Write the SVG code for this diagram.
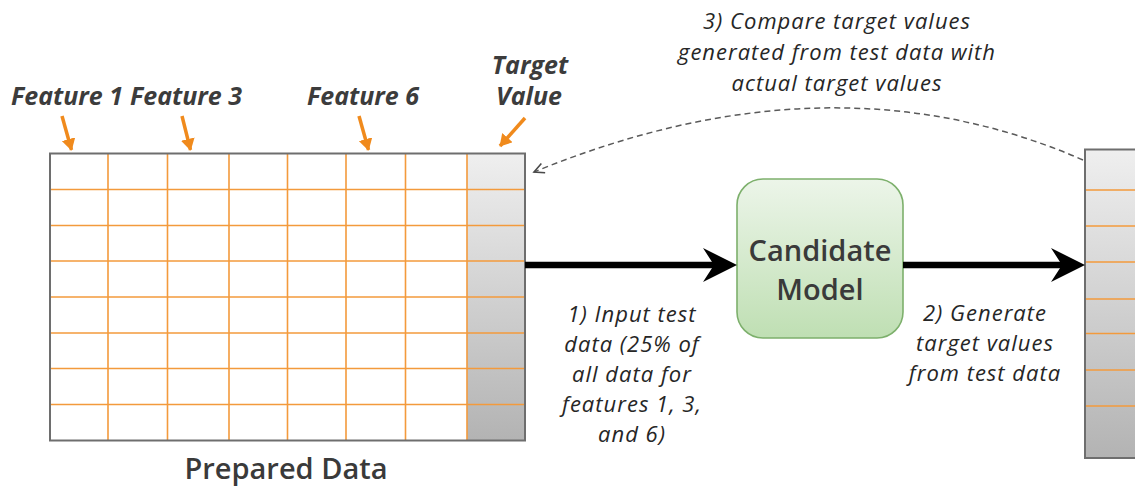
<svg xmlns="http://www.w3.org/2000/svg" width="1135" height="487" viewBox="0 0 1135 487">
<style>
.lbl{font-family:"Open Sans","Liberation Sans",sans-serif;font-style:italic;font-size:22px;letter-spacing:1px;fill:#262626;text-anchor:middle}
.feat{font-family:"Open Sans","Liberation Sans",sans-serif;font-style:italic;font-weight:700;font-size:25px;fill:#3c3c3c;text-anchor:middle}
.grid{stroke:#f39a3c;stroke-width:1.6;fill:none}
.border{stroke:#6e6e6e;stroke-width:2;fill:none}
.oarrow{stroke:#f08a1c;stroke-width:3.5;fill:none;marker-end:url(#oh)}
</style>
<defs>
<linearGradient id="gray" x1="0" y1="0" x2="0" y2="1">
<stop offset="0" stop-color="#efefef"/>
<stop offset="1" stop-color="#b3b3b3"/>
</linearGradient>
<linearGradient id="green" x1="0" y1="0" x2="0" y2="1">
<stop offset="0" stop-color="#ecf5e9"/>
<stop offset="1" stop-color="#bfdfb3"/>
</linearGradient>
<marker id="oh" markerWidth="4" markerHeight="4" refX="3.2" refY="2" orient="auto" markerUnits="strokeWidth">
<path d="M0,0 L3.4,2 L0,4 Z" fill="#f08a1c"/>
</marker>
<marker id="dh" markerWidth="14" markerHeight="14" refX="11" refY="7" orient="auto" markerUnits="userSpaceOnUse">
<path d="M1,2 L11,7 L1,12" fill="none" stroke="#4a4a4a" stroke-width="1.6"/>
</marker>
</defs>

<g id="prepared-data">
<rect x="467" y="153.5" width="58" height="287" fill="url(#gray)"/>
<rect x="50" y="153.5" width="417" height="287" fill="#ffffff"/>
<path class="grid" d="M108,153.5V440.5 M167.5,153.5V440.5 M229,153.5V440.5 M287.5,153.5V440.5 M346,153.5V440.5 M405.5,153.5V440.5 M467,153.5V440.5"/>
<path class="grid" d="M50,189.5H525 M50,225.5H525 M50,261H525 M50,297H525 M50,333H525 M50,368.5H525 M50,404.5H525"/>
<rect class="border" x="50" y="153.5" width="475" height="287"/>
<text x="286" y="479" font-family="'Open Sans','Liberation Sans',sans-serif" font-weight="600" font-size="29" fill="#3a3a3a" text-anchor="middle">Prepared Data</text>
</g>

<g id="feature-labels">
<text class="feat" x="67" y="105">Feature 1</text>
<text class="feat" x="186" y="105">Feature 3</text>
<text class="feat" x="363" y="105">Feature 6</text>
<text class="feat" x="530" y="74">Target</text>
<text class="feat" x="529" y="105">Value</text>
</g>

<g id="candidate-model">
<rect x="737" y="179" width="166" height="159" rx="26" ry="26" fill="url(#green)" stroke="#7db06c" stroke-width="1.6"/>
<text x="820" y="261" font-family="'Open Sans','Liberation Sans',sans-serif" font-weight="600" font-size="29" fill="#3a3a3a" text-anchor="middle">Candidate</text>
<text x="820" y="300" font-family="'Open Sans','Liberation Sans',sans-serif" font-weight="600" font-size="29" fill="#3a3a3a" text-anchor="middle">Model</text>
</g>

<g id="output-values">
<rect x="1085" y="149.5" width="60" height="308.5" fill="url(#gray)" stroke="#6e6e6e" stroke-width="2"/>
<path class="grid" d="M1086,190H1135 M1086,226H1135 M1086,262H1135 M1086,299H1135 M1086,333.5H1135 M1086,370H1135 M1086,406H1135"/>
</g>

<g id="connectors">
<path class="oarrow" d="M62,116 L71.5,150"/>
<path class="oarrow" d="M182,116 L190.5,150"/>
<path class="oarrow" d="M359,116 L368.5,150"/>
<path class="oarrow" d="M525,118 L500,146"/>
<path d="M525,265 H716" stroke="#000" stroke-width="6.5" fill="none"/>
<path d="M737,265 L703,248 L714,265 L703,282 Z" fill="#000"/>
<path d="M903,265 H1064" stroke="#000" stroke-width="6.5" fill="none"/>
<path d="M1085,265 L1051,248 L1062,265 L1051,282 Z" fill="#000"/>
<path d="M1083,160 Q831,50 534,172" fill="none" stroke="#5a5a5a" stroke-width="1.5" stroke-dasharray="6,4" marker-end="url(#dh)"/>
</g>

<g id="labels">
<text class="lbl" x="837" y="29">3) Compare target values</text>
<text class="lbl" x="837" y="60">generated from test data with</text>
<text class="lbl" x="837" y="91">actual target values</text>
<text class="lbl" x="632" y="322">1) Input test</text>
<text class="lbl" x="632" y="352">data (25% of</text>
<text class="lbl" x="632" y="382">all data for</text>
<text class="lbl" x="632" y="412">features 1, 3,</text>
<text class="lbl" x="632" y="442">and 6)</text>
<text class="lbl" x="985" y="321">2) Generate</text>
<text class="lbl" x="985" y="351">target values</text>
<text class="lbl" x="985" y="381">from test data</text>
</g>
</svg>
